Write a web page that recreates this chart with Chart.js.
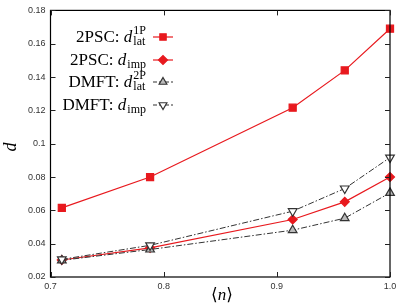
<!DOCTYPE html>
<html>
<head>
<meta charset="utf-8">
<script src="https://cdn.jsdelivr.net/npm/chart.js@4"></script>
<style>
  html, body { margin: 0; padding: 0; background: #fff; }
  #wrap { width: 407px; height: 306px; }
</style>
</head>
<body>
<div id="wrap"><canvas id="c" width="407" height="306"></canvas></div>
<script>
// data
const nValues = [0.71, 0.788, 0.914, 0.96, 1.0];
const psc_lat1P = [0.0615, 0.0800, 0.1216, 0.1440, 0.1690];
const psc_imp   = [0.0302, 0.0375, 0.0545, 0.0651, 0.0800];
const dmft_lat2P = [0.0300, 0.0365, 0.0481, 0.0553, 0.0705];
const dmft_imp  = [0.0306, 0.0390, 0.0595, 0.0731, 0.0917];
const xTicks = [0.7, 0.8, 0.9, 1.0];
const yTicks = [0.02, 0.04, 0.06, 0.08, 0.1, 0.12, 0.14, 0.16, 0.18];

const RED = '#e8191e';
const DARK = '#333333';
const DASHDOT = [6, 2, 1.5, 2];

function pts(ys) { return nValues.map((x, i) => ({ x: x, y: ys[i] })); }

// legend rows: prefix, sub, sup
const legendRows = [
  { pre: '2PSC: ', sub: 'lat', sup: '1P', color: RED, dash: [], style: 'rect', rot: 0, fill: RED },
  { pre: '2PSC: ', sub: 'imp', sup: '', color: RED, dash: [], style: 'rectRot', rot: 0, fill: RED },
  { pre: 'DMFT: ', sub: 'lat', sup: '2P', color: DARK, dash: [4, 2], style: 'triangle', rot: 0, fill: '#bbbbbb' },
  { pre: 'DMFT: ', sub: 'imp', sup: '', color: DARK, dash: [4, 2], style: 'triangle', rot: 180, fill: '#ffffff' }
];

const SERIF = '"Liberation Serif", "DejaVu Serif", serif';

const framePlugin = {
  id: 'frame',
  afterDraw(chart) {
    const ctx = chart.ctx;
    const a = chart.chartArea;
    const xs = chart.scales.x, ys = chart.scales.y;
    ctx.save();
    ctx.strokeStyle = '#000';
    ctx.lineWidth = 1.2;
    ctx.strokeRect(a.left, a.top, a.right - a.left, a.bottom - a.top);
    ctx.lineWidth = 1;
    ctx.strokeStyle = '#222';
    const L = 5;
    xTicks.forEach(v => {
      const p = Math.round(xs.getPixelForValue(v)) + 0.5;
      ctx.beginPath();
      ctx.moveTo(p, a.bottom); ctx.lineTo(p, a.bottom - L);
      ctx.moveTo(p, a.top); ctx.lineTo(p, a.top + L);
      ctx.stroke();
    });
    yTicks.forEach(v => {
      const p = Math.round(ys.getPixelForValue(v)) + 0.5;
      ctx.beginPath();
      ctx.moveTo(a.left, p); ctx.lineTo(a.left + L, p);
      ctx.moveTo(a.right, p); ctx.lineTo(a.right - L, p);
      ctx.stroke();
    });

    // axis titles
    ctx.fillStyle = '#000';
    ctx.textBaseline = 'middle';
    ctx.save();
    ctx.translate(11, 147);
    ctx.rotate(-Math.PI / 2);
    ctx.font = 'italic 18px ' + SERIF;
    ctx.textAlign = 'center';
    ctx.fillText('d', 0, 0);
    ctx.restore();

    ctx.font = '17px ' + SERIF;
    ctx.textAlign = 'left';
    const ty = 296;
    let tx = 211;
    ctx.fillText('\u27E8', tx, ty); tx += ctx.measureText('\u27E8').width;
    ctx.font = 'italic 17px ' + SERIF;
    ctx.fillText('n', tx, ty); tx += ctx.measureText('n').width;
    ctx.font = '17px ' + SERIF;
    ctx.fillText('\u27E9', tx, ty);

    // legend
    const rowY = [37, 60, 82, 105];
    const textRight = 146;
    legendRows.forEach((r, i) => {
      const y = rowY[i];
      const fMain = '17px ' + SERIF;
      const fIt = 'italic 17px ' + SERIF;
      const fSmall = '12px ' + SERIF;
      ctx.textBaseline = 'alphabetic';
      ctx.textAlign = 'left';
      ctx.font = fMain; const wPre = ctx.measureText(r.pre).width;
      ctx.font = fIt; const wD = ctx.measureText('d').width;
      ctx.font = fSmall;
      const wSub = ctx.measureText(r.sub).width;
      const wSup = ctx.measureText(r.sup).width;
      const total = wPre + wD + 1 + Math.max(wSub, wSup);
      let x = textRight - total;
      const base = y + 5;
      ctx.fillStyle = '#000';
      ctx.font = fMain; ctx.fillText(r.pre, x, base); x += wPre;
      ctx.font = fIt; ctx.fillText('d', x, base); x += wD + 1;
      ctx.font = fSmall;
      ctx.fillText(r.sub, x, base + 3);
      if (r.sup) ctx.fillText(r.sup, x, base - 8);

      // sample
      ctx.strokeStyle = r.color;
      ctx.lineWidth = 1.2;
      ctx.setLineDash(r.dash);
      ctx.beginPath(); ctx.moveTo(153, y); ctx.lineTo(173, y); ctx.stroke();
      ctx.setLineDash([]);
      ctx.fillStyle = r.fill;
      ctx.strokeStyle = r.color;
      ctx.lineWidth = 1.2;
      Chart.helpers.drawPoint(ctx, {
        pointStyle: r.style, radius: 4.5, rotation: r.rot, borderWidth: 1.2
      }, 163, y);
    });
    ctx.restore();
  }
};

const tickFont = { family: '"Liberation Sans", Arial, sans-serif', size: 9 };

new Chart(document.getElementById('c'), {
  type: 'scatter',
  data: {
    datasets: [
      {
        label: 'dmft_imp', data: pts(dmft_imp), showLine: true, clip: false,
        borderColor: DARK, borderWidth: 1, borderDash: DASHDOT,
        pointStyle: 'triangle', rotation: 180, pointRadius: 5,
        pointBackgroundColor: '#ffffff', pointBorderColor: DARK, pointBorderWidth: 1.2
      },
      {
        label: 'dmft_lat', data: pts(dmft_lat2P), showLine: true, clip: false,
        borderColor: DARK, borderWidth: 1, borderDash: DASHDOT,
        pointStyle: 'triangle', pointRadius: 5,
        pointBackgroundColor: '#bbbbbb', pointBorderColor: DARK, pointBorderWidth: 1.2
      },
      {
        label: 'psc_imp', data: pts(psc_imp), showLine: true, clip: false,
        borderColor: RED, borderWidth: 1.2,
        pointStyle: 'rectRot', pointRadius: 4.5,
        pointBackgroundColor: RED, pointBorderColor: RED
      },
      {
        label: 'psc_lat', data: pts(psc_lat1P), showLine: true, clip: false,
        borderColor: RED, borderWidth: 1.2,
        pointStyle: 'rect', pointRadius: 5,
        pointBackgroundColor: RED, pointBorderColor: RED
      }
    ]
  },
  options: {
    responsive: false,
    animation: false,
    layout: { padding: { top: 10, right: 17, left: 0, bottom: 0 } },
    plugins: { legend: { display: false }, tooltip: { enabled: false } },
    scales: {
      x: {
        type: 'linear', min: 0.7, max: 1.0,
        grid: { display: false, drawTicks: false },
        border: { display: false },
        afterFit(s) { s.height = 29; },
        afterBuildTicks(s) { s.ticks = xTicks.map(v => ({ value: v })); },
        ticks: {
          font: tickFont, color: '#333', padding: 4, maxRotation: 0,
          callback: v => Number(v).toFixed(1)
        }
      },
      y: {
        type: 'linear', min: 0.02, max: 0.18,
        grid: { display: false, drawTicks: false },
        border: { display: false },
        afterFit(s) { s.width = 50.5; },
        afterBuildTicks(s) { s.ticks = yTicks.map(v => ({ value: v })); },
        ticks: {
          font: tickFont, color: '#333', padding: 5,
          callback: v => String(Math.round(v * 100) / 100)
        }
      }
    }
  },
  plugins: [framePlugin]
});
</script>
</body>
</html>
